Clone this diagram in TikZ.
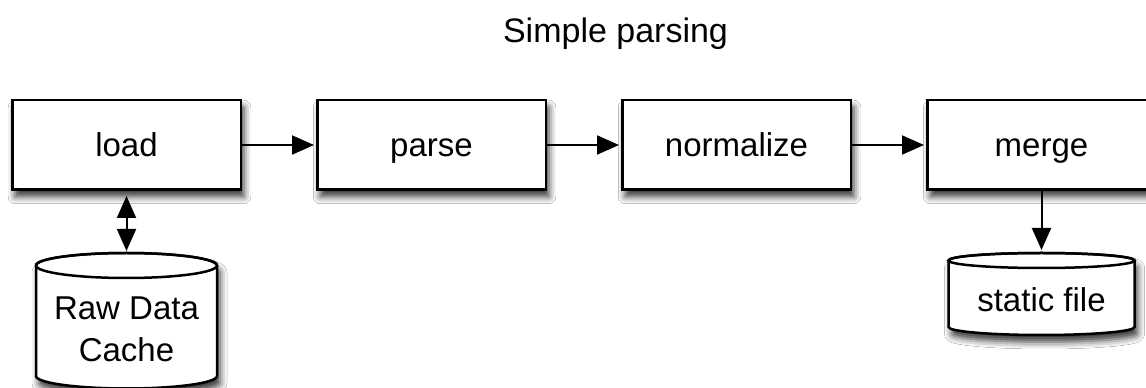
\documentclass[tikz,border=0pt]{standalone}
\usepackage{fontspec}
\setmainfont{Liberation Sans}
\usetikzlibrary{arrows.meta,shadows.blur}
\tikzset{
  softshadow/.style={blur shadow={shadow xshift=3pt, shadow yshift=-7pt, shadow blur radius=7pt, shadow opacity=80}},
  procbox/.style={draw=black, line width=2.5pt, fill=white, minimum width=228.5pt, minimum height=89.5pt,
    inner sep=0pt, text height=24pt, text depth=0pt, font=\fontsize{33}{40}\selectfont, softshadow},
  cylbody/.style={draw=black, line width=2.5pt, fill=white, softshadow},
  cylline/.style={draw=black, line width=2.5pt},
  anchorbox/.style={inner sep=0pt, outer sep=0pt},
  lbl/.style={font=\fontsize{33}{40}\selectfont, inner sep=0pt, anchor=base},
  tip/.tip={Triangle[length=22pt,width=19pt,fill=black]},
  flow/.style={draw=black, line width=2pt, -tip},
  flowboth/.style={draw=black, line width=2pt, tip-tip}
}
\begin{document}
\begin{tikzpicture}[x=1pt,y=1pt]
\useasboundingbox (0,0) rectangle (1146,388);
\clip (0,0) rectangle (1146,388);
\fill[white] (0,0) rectangle (1146,388);

\node[lbl, font=\fontsize{34}{40}\selectfont] (title) at (615.5,345) {Simple parsing};

\node[procbox] (load) at (126.5,243) {load};
\node[procbox] (parse) at (431.5,243) {parse};
\node[procbox] (normalize) at (736.5,243) {normalize};
\node[procbox] (merge) at (1041.5,243) {merge};

% Raw Data Cache cylinder
\path[cylbody] (36,122.5) -- (36,12) arc[start angle=180,end angle=360,x radius=90.5,y radius=12.5]
  -- (217,122.5) arc[start angle=0,end angle=180,x radius=90.5,y radius=12.5] -- cycle;
\draw[cylline] (126.5,122.5) ellipse[x radius=90.5,y radius=12.5];
\node[anchorbox, minimum width=181pt, minimum height=135pt] (cache) at (126.5,67.5) {};
\node[lbl] (cachelabel1) at (126.5,68) {Raw Data};
\node[lbl] (cachelabel2) at (126.5,26) {Cache};

% static file cylinder
\path[cylbody] (948.5,127.5) -- (948.5,61) arc[start angle=180,end angle=360,x radius=93,y radius=8]
  -- (1134.5,127.5) arc[start angle=0,end angle=180,x radius=93,y radius=7.5] -- cycle;
\draw[cylline] (1041.5,127.5) ellipse[x radius=93,y radius=7.5];
\node[anchorbox, minimum width=186pt, minimum height=82pt] (static) at (1041.5,94) {};
\node[lbl] (staticlabel) at (1041.5,76) {static file};

% connectors
\draw[flow, shorten >=2pt] (load) -- (parse);
\draw[flow, shorten >=2pt] (parse) -- (normalize);
\draw[flow, shorten >=2pt] (normalize) -- (merge);
\draw[flowboth, shorten <=5pt, shorten >=2pt] (load.south) -- (cache.north);
\draw[flow, shorten >=3pt] (merge.south) -- (static.north);
\end{tikzpicture}
\end{document}
